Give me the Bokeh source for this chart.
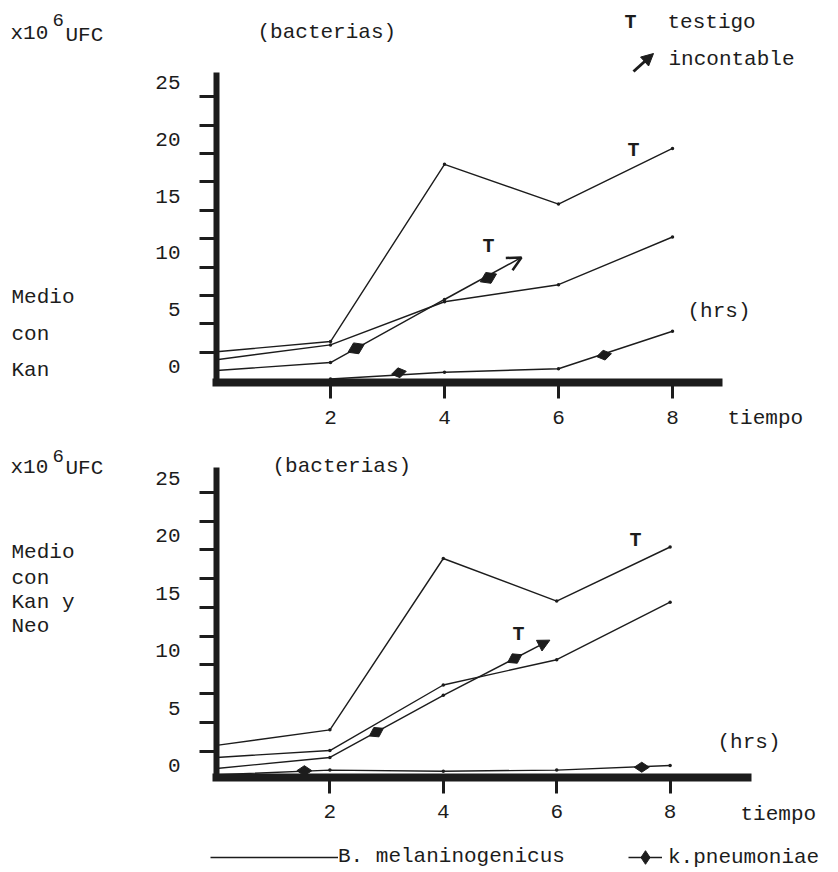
import math
from bokeh.plotting import figure
from bokeh.layouts import column
from bokeh.models import (Label, Arrow, OpenHead, NormalHead, FixedTicker,
                          Legend, LegendItem, Range1d)
from bokeh.embed import file_html
from bokeh.resources import INLINE

FONT = "Liberation Mono"
INK = "#1c1c1c"

# ---------------- data ----------------
hours = [0, 2, 4, 6, 8]
time_ticks = [2, 4, 6, 8]
count_ticks = [0, 5, 10, 15, 20, 25]
count_minor = [1.25, 3.75, 6.25, 8.75, 11.25, 13.75, 16.25, 18.75, 21.25, 23.75]

# Panel 1: Medio con Kan  (x10^6 UFC)
kan_bmel_control = [1.3, 2.2, 17.8, 14.3, 19.2]
kan_bmel = [0.6, 1.9, 5.7, 7.2, 11.4]
kan_kpn_control_hours = [0, 2, 4]
kan_kpn_control = [-0.35, 0.35, 5.9]
kan_kpn_control_tip_hours = [5.35]
kan_kpn_control_tip = [9.6]
kan_kpn_control_mark_hours = [2.45, 4.77]
kan_kpn_control_mark = [1.6, 7.8]
kan_kpn_hours = [2, 4, 6, 8]
kan_kpn = [-1.1, -0.5, -0.2, 3.1]
kan_kpn_mark_hours = [3.2, 6.8]
kan_kpn_mark = [-0.55, 1.0]

# Panel 2: Medio con Kan y Neo
kn_bmel_control = [1.75, 3.1, 18.0, 14.3, 19.0]
kn_bmel = [0.7, 1.3, 7.0, 9.2, 14.2]
kn_kpn_control_hours = [0, 2, 4]
kn_kpn_control = [-0.26, 0.7, 6.1]
kn_kpn_control_tip_hours = [5.88]
kn_kpn_control_tip = [10.9]
kn_kpn_control_mark_hours = [2.82, 5.26]
kn_kpn_control_mark = [2.9, 9.3]
kn_kpn = [-0.8, -0.4, -0.5, -0.4, 0.0]
kn_kpn_mark_hours = [1.55, 7.5]
kn_kpn_mark = [-0.45, -0.15]

W = 838


def make_fig(height, top_px, zero_x_px, px_per_hour, zero_y_px, px_per_unit,
             x_axis_at, x_axis_end, y_axis_top):
    # frame covers the whole canvas; axes drawn at fixed locations
    x0 = -zero_x_px / px_per_hour
    x1 = (W - zero_x_px) / px_per_hour
    y1 = (zero_y_px - top_px) / px_per_unit
    y0 = (zero_y_px - top_px - height) / px_per_unit
    p = figure(width=W, height=height, x_range=Range1d(x0, x1), y_range=Range1d(y0, y1),
               output_backend="svg", toolbar_location=None,
               min_border_left=0, min_border_right=0, min_border_top=0, min_border_bottom=0)
    p.grid.visible = False
    p.outline_line_color = None
    p.background_fill_color = "white"
    p.border_fill_color = "white"
    xa = p.xaxis[0]
    xa.fixed_location = x_axis_at
    xa.bounds = (0, x_axis_end)
    xa.ticker = FixedTicker(ticks=time_ticks)
    xa.axis_line_width = 8
    xa.axis_line_color = INK
    xa.axis_line_cap = "square"
    xa.major_tick_line_width = 3
    xa.major_tick_line_color = INK
    xa.major_tick_out = 16
    xa.major_tick_in = 0
    xa.minor_tick_line_color = None
    xa.major_label_standoff = 12
    xa.major_label_text_font = FONT
    xa.major_label_text_font_size = "21px"
    xa.major_label_text_color = INK
    ya = p.yaxis[0]
    ya.fixed_location = 0
    ya.bounds = (x_axis_at, y_axis_top)
    ya.ticker = FixedTicker(ticks=count_ticks, minor_ticks=count_minor)
    ya.axis_line_width = 6
    ya.axis_line_color = INK
    ya.axis_line_cap = "square"
    ya.major_tick_out = 0
    ya.major_tick_in = 0
    ya.major_tick_line_color = None
    ya.minor_tick_out = 17
    ya.minor_tick_in = 0
    ya.minor_tick_line_width = 3
    ya.minor_tick_line_color = INK
    ya.major_label_standoff = 19
    ya.major_label_text_font = FONT
    ya.major_label_text_font_size = "21px"
    ya.major_label_text_color = INK
    return p


def series(p, xs, ys):
    r = p.line(xs, ys, line_color=INK, line_width=1.4)
    p.scatter(xs, ys, marker="circle", size=3.5, fill_color=INK, line_color=None)
    return r


def marks(p, xs, ys, size, angle):
    return p.scatter(xs, ys, marker="diamond", size=size, angle=angle,
                     fill_color=INK, line_color=INK)


def make_label(p, bottom_px, text, px, py, size="21px", bold=False):
    p.add_layout(Label(x=px, y=bottom_px - py, x_units="screen", y_units="screen",
                       text=text, text_font=FONT, text_font_size=size,
                       text_font_style="bold" if bold else "normal",
                       text_color=INK, text_baseline="middle", text_align="left"))


# ---------------- panel 1 ----------------
H1 = 434
p1 = make_fig(H1, 0, 216, 57.0, 366, 11.36, -1.41, 8.8, 25.6)
series(p1, hours, kan_bmel_control)
series(p1, hours, kan_bmel)
series(p1, kan_kpn_control_hours, kan_kpn_control)
series(p1, kan_kpn_hours, kan_kpn)
marks(p1, kan_kpn_control_mark_hours, kan_kpn_control_mark, 18, math.pi / 2 + 0.45)
marks(p1, kan_kpn_mark_hours, kan_kpn_mark, 15, math.pi / 2 + 0.2)
p1.add_layout(Arrow(x_start=kan_kpn_control_hours[-1], y_start=kan_kpn_control[-1],
                    x_end=kan_kpn_control_tip_hours[0], y_end=kan_kpn_control_tip[0],
                    line_color=INK, line_width=1.5,
                    end=OpenHead(size=14, line_width=2.5, line_color=INK)))
# symbol key (top right)
p1.add_layout(Arrow(x_start=633, y_start=H1 - 71, x_end=653, y_end=H1 - 53,
                    start_units="screen", end_units="screen",
                    line_color=INK, line_width=3,
                    end=NormalHead(size=12, fill_color=INK, line_color=INK)))

for t, x, y, s, b in [("x10", 10, 33, "21px", False), ("6", 52, 19, "19px", False),
                      ("UFC", 65, 35, "21px", False), ("(bacterias)", 257, 32, "21px", False),
                      ("T", 624, 22, "20px", True), ("testigo", 667, 22, "21px", False),
                      ("incontable", 668, 59, "21px", False),
                      ("T", 627, 150, "20px", True), ("T", 482, 246, "20px", True),
                      ("(hrs)", 687, 311, "21px", False), ("tiempo", 727, 418, "21px", False),
                      ("Medio", 11, 297, "21px", False), ("con", 11, 334, "21px", False),
                      ("Kan", 11, 370, "21px", False)]:
    make_label(p1, H1, t, x, y, s, b)

# ---------------- panel 2 ----------------
TOP2 = H1
H2 = 436
B2 = TOP2 + H2
p2 = make_fig(H2, TOP2, 216, 56.7, 765, 11.5, -1.04, 9.36, 25.65)
r_bmel = series(p2, hours, kn_bmel_control)
series(p2, hours, kn_bmel)
series(p2, kn_kpn_control_hours, kn_kpn_control)
r_kpn = series(p2, hours, kn_kpn)
marks(p2, kn_kpn_control_mark_hours, kn_kpn_control_mark, 16, math.pi / 2 + 0.5)
r_kpn_marks = marks(p2, kn_kpn_mark_hours, kn_kpn_mark, 15, math.pi / 2)
p2.add_layout(Arrow(x_start=kn_kpn_control_hours[-1], y_start=kn_kpn_control[-1],
                    x_end=kn_kpn_control_tip_hours[0], y_end=kn_kpn_control_tip[0],
                    line_color=INK, line_width=1.5,
                    end=NormalHead(size=12, fill_color=INK, line_color=INK)))

for t, x, y, s, b in [("x10", 10, 467, "21px", False), ("6", 52, 455, "19px", False),
                      ("UFC", 65, 468, "21px", False), ("(bacterias)", 272, 466, "21px", False),
                      ("Medio", 11, 552, "21px", False), ("con", 11, 578, "21px", False),
                      ("Kan y", 11, 602, "21px", False), ("Neo", 11, 626, "21px", False),
                      ("T", 629, 540, "20px", True), ("T", 512, 634, "20px", True),
                      ("(hrs)", 717, 742, "21px", False), ("tiempo", 740, 814, "21px", False)]:
    make_label(p2, B2, t, x, y, s, b)

leg_common = dict(padding=0, margin=0, spacing=0,
                  border_line_color=None, background_fill_alpha=0,
                  label_text_font=FONT, label_text_font_size="21px", label_text_color=INK)
leg1 = Legend(items=[LegendItem(label="B. melaninogenicus", renderers=[r_bmel])],
              location=(210, 2), glyph_width=128, glyph_height=20, label_standoff=0,
              **leg_common)
leg2 = Legend(items=[LegendItem(label="k.pneumoniae", renderers=[r_kpn, r_kpn_marks])],
              location=(628, -6), glyph_width=34, glyph_height=38, label_standoff=6,
              **leg_common)
p2.add_layout(leg1)
p2.add_layout(leg2)

layout = column(p1, p2, spacing=0)
open("out.html", "w").write(file_html(layout, INLINE))
